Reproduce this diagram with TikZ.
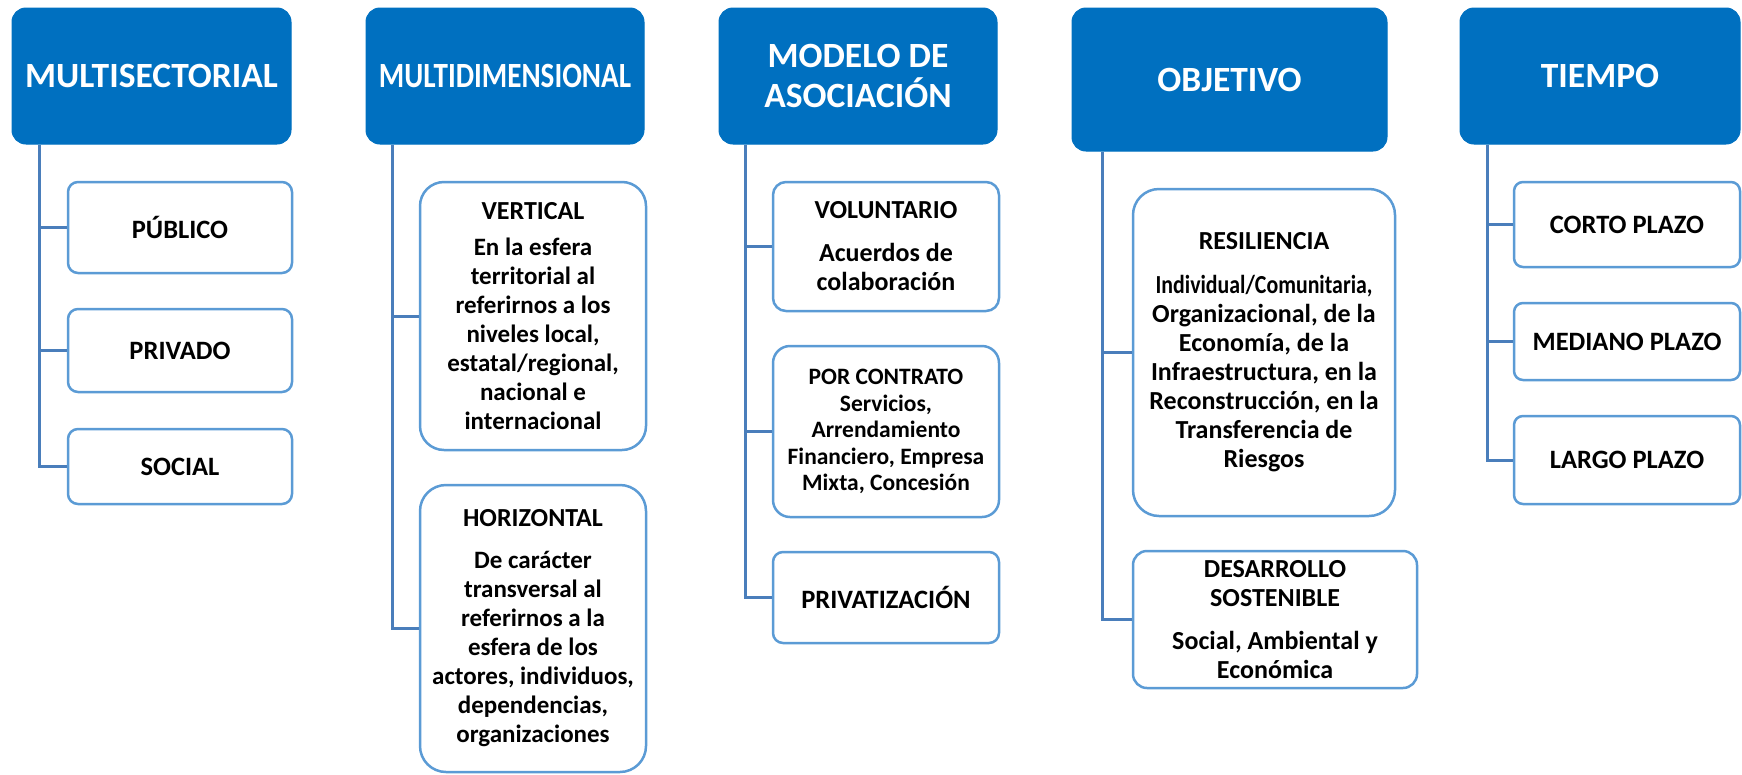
\documentclass[tikz,border=0pt]{standalone}
\usepackage{fontspec}
\usepackage{graphicx}
\setmainfont{Carlito}
\definecolor{hblue}{HTML}{0070C0}
\definecolor{bblue}{HTML}{5B9BD5}
\definecolor{cblue}{HTML}{4A7EBB}
\newcommand{\lbl}{\fontsize{26.5}{29}\selectfont\bfseries}
\newcommand{\ttl}{\fontsize{26}{29}\selectfont\bfseries}
\tikzset{
  headbox/.style={fill=hblue, draw=hblue, line width=1pt, rounded corners=14pt, text=white,
    font=\fontsize{35.5}{40}\selectfont\bfseries, align=center, inner sep=0pt},
  childbox/.style={draw=bblue, line width=2.5pt, fill=white, rounded corners=#1, align=center,
    inner sep=0pt, font=\fontsize{26}{29}\selectfont\bfseries},
  childbox/.default=10pt,
  conn/.style={draw=cblue, line width=3pt}
}
\begin{document}
\begin{tikzpicture}[x=1pt,y=-1pt]
\useasboundingbox (0,0) rectangle (1742,774);
% headers
\node[headbox, minimum width=279pt, minimum height=136pt] (h1) at (151.5,76) {MULTISECTORIAL};
\node[headbox, minimum width=278pt, minimum height=136pt] (h2) at (505,76) {\scalebox{0.82}[1]{MULTIDIMENSIONAL}};
\node[headbox, minimum width=278pt, minimum height=136pt] (h3) at (858,76) {MODELO DE\\ASOCIACIÓN};
\node[headbox, minimum width=315pt, minimum height=143pt] (h4) at (1229.5,79.5) {OBJETIVO};
\node[headbox, minimum width=280pt, minimum height=136pt] (h5) at (1600,76) {TIEMPO};
% trunk coordinates
\coordinate (t1) at (39,0);
\coordinate (t2) at (392,0);
\coordinate (t3) at (745,0);
\coordinate (t4) at (1102,0);
\coordinate (t5) at (1487,0);
% column 1
\node[childbox=10pt, minimum width=224pt, minimum height=91pt, font=\lbl] (c11) at (180,227.5) {PÚBLICO};
\node[childbox=10pt, minimum width=224pt, minimum height=83pt, font=\lbl] (c12) at (180,350.5) {PRIVADO};
\node[childbox=10pt, minimum width=224pt, minimum height=75pt, font=\lbl] (c13) at (180,466.5) {SOCIAL};
% column 2
\node[childbox=24pt, minimum width=226pt, minimum height=268pt, font=\fontsize{25}{29}\selectfont\bfseries] (c21) at (533,316)
  {{\ttl VERTICAL}\\[7pt]En la esfera\\territorial al\\referirnos a los\\niveles local,\\estatal/regional,\\nacional e\\internacional};
\node[childbox=26pt, minimum width=226pt, minimum height=287pt, font=\fontsize{25}{29}\selectfont\bfseries] (c22) at (533,628.5)
  {{\ttl HORIZONTAL}\\[13pt]De carácter\\transversal al\\referirnos a la\\esfera de los\\actores, individuos,\\dependencias,\\organizaciones};
% column 3
\node[childbox=13pt, minimum width=226pt, minimum height=129pt] (c31) at (886,246.5)
  {VOLUNTARIO\\[14pt]Acuerdos de\\colaboración};
\node[childbox=17pt, minimum width=226pt, minimum height=171pt, font=\fontsize{23.5}{26.5}\selectfont\bfseries] (c32) at (886,431.5)
  {POR CONTRATO\\Servicios,\\Arrendamiento\\Financiero, Empresa\\Mixta, Concesión};
\node[childbox=10pt, minimum width=226pt, minimum height=91pt, font=\lbl] (c33) at (886,597.5) {PRIVATIZACIÓN};
% column 4
\node[childbox=26pt, minimum width=262pt, minimum height=327pt] (c41) at (1264,352.5)
  {RESILIENCIA\\[15pt]\scalebox{0.84}[1]{Individual/Comunitaria,}\\Organizacional, de la\\Economía, de la\\Infraestructura, en la\\Reconstrucción, en la\\Transferencia de\\Riesgos};
\node[childbox=14pt, minimum width=284pt, minimum height=137pt] (c42) at (1275,619.5)
  {DESARROLLO\\SOSTENIBLE\\[14pt]Social, Ambiental y\\Económica};
% column 5
\node[childbox=9pt, minimum width=226pt, minimum height=85pt, font=\lbl] (c51) at (1627,224.5) {CORTO PLAZO};
\node[childbox=9pt, minimum width=226pt, minimum height=77pt, font=\lbl] (c52) at (1627,341.5) {MEDIANO PLAZO};
\node[childbox=9pt, minimum width=226pt, minimum height=88pt, font=\lbl] (c53) at (1627,460) {LARGO PLAZO};
% connectors
\draw[conn] (h1.south -| t1) |- (c13.west);
\draw[conn] (c11.west -| t1) -- (c11.west);
\draw[conn] (c12.west -| t1) -- (c12.west);
\draw[conn] (h2.south -| t2) |- (c22.west);
\draw[conn] (c21.west -| t2) -- (c21.west);
\draw[conn] (h3.south -| t3) |- (c33.west);
\draw[conn] (c31.west -| t3) -- (c31.west);
\draw[conn] (c32.west -| t3) -- (c32.west);
\draw[conn] (h4.south -| t4) |- (c42.west);
\draw[conn] (c41.west -| t4) -- (c41.west);
\draw[conn] (h5.south -| t5) |- (c53.west);
\draw[conn] (c51.west -| t5) -- (c51.west);
\draw[conn] (c52.west -| t5) -- (c52.west);
\end{tikzpicture}
\end{document}
